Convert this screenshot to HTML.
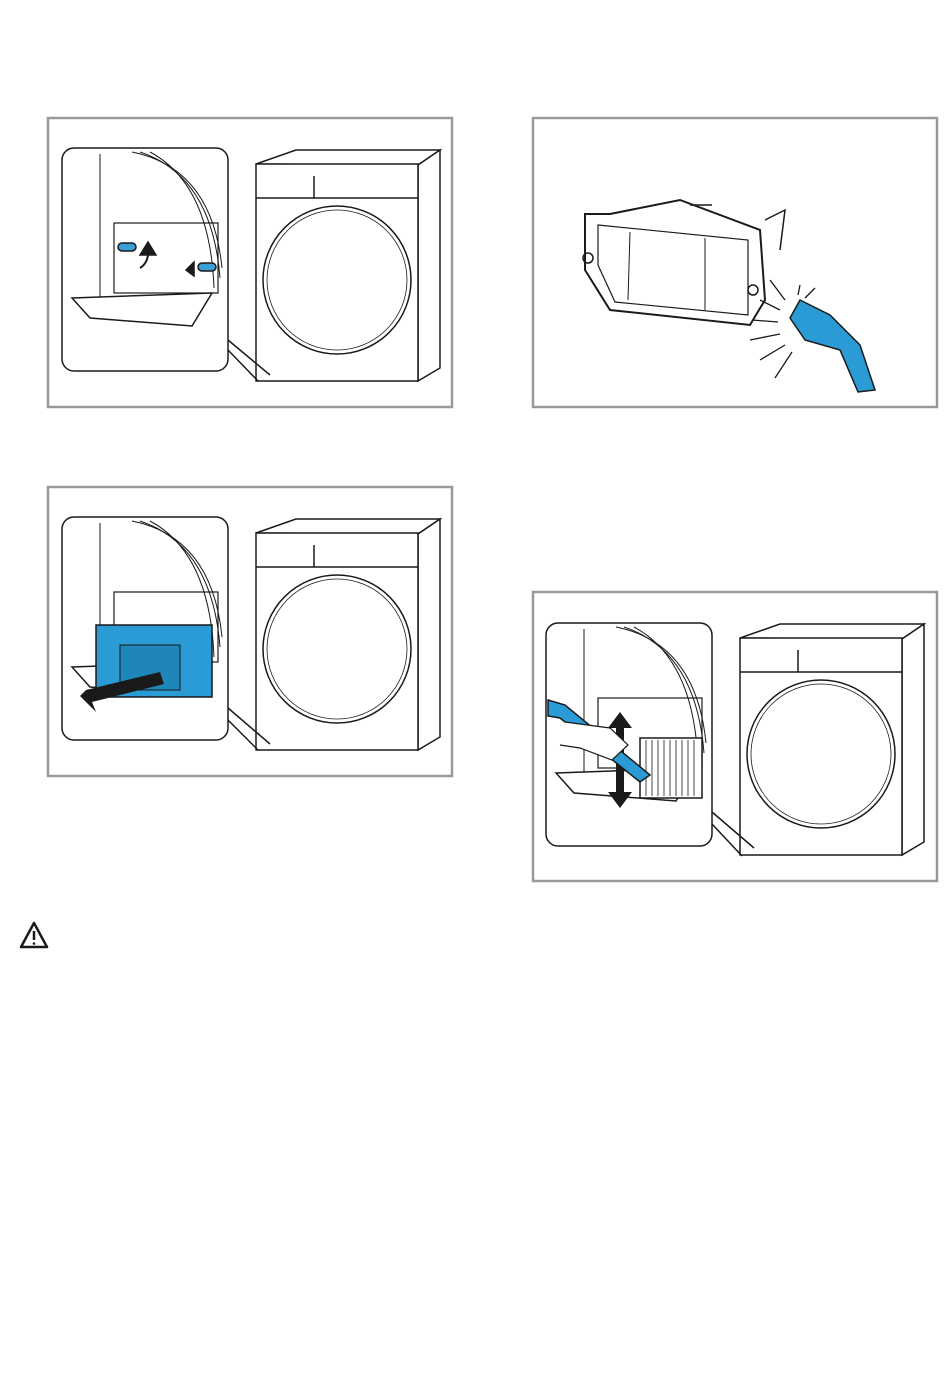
<!DOCTYPE html>
<html><head><meta charset="utf-8"><style>
html,body{margin:0;padding:0;background:#fff;}
svg{display:block;}
</style></head><body>
<svg width="950" height="1392" viewBox="0 0 950 1392" xmlns="http://www.w3.org/2000/svg" fill="none" stroke="#1a1a1a" stroke-width="1.5" font-family="Liberation Sans, sans-serif">
<defs>
<g id="dryer">
  <polygon points="0,14 40,0 184,0 162,15" fill="#fff"/>
  <polygon points="162,15 184,0 184,218 162,231" fill="#fff"/>
  <rect x="0" y="14" width="162" height="217" fill="#fff"/>
  <line x1="0" y1="48" x2="162" y2="48"/>
  <line x1="58" y1="26" x2="58" y2="48"/>
  <circle cx="81" cy="130" r="74"/>
  <circle cx="81" cy="130" r="70" stroke-width="0.8"/>
</g>
<g id="inset">
  <rect x="0" y="0" width="166" height="223" rx="12" fill="#fff"/>
  <line x1="38" y1="6" x2="38" y2="150" stroke-width="1"/>
  <path d="M70 4 Q150 20 160 120" stroke-width="1"/>
  <path d="M78 4 Q150 28 158 130" stroke-width="1"/>
  <path d="M88 4 Q148 36 152 140" stroke-width="1"/>
  <rect x="52" y="75" width="104" height="70" stroke-width="1.2"/>
  <polygon points="10,150 150,145 130,178 28,170" fill="#fff"/>
</g>
</defs>
<g stroke="#999" stroke-width="2.5">
<rect x="48" y="118" width="404" height="289"/>
<rect x="533" y="118" width="404" height="289"/>
<rect x="48" y="487" width="404" height="289"/>
<rect x="533" y="592" width="404" height="289"/>
</g>
<!-- box1 -->
<use href="#dryer" x="256" y="150"/>
<use href="#inset" x="62" y="148"/>
<polyline points="228,340 270,375" />
<polyline points="228,350 258,381"/>
<path d="M140 255 L148 242 L156 255 Z" fill="#1a1a1a"/>
<path d="M148 245 Q150 262 140 268" stroke-width="2"/>
<path d="M186 270 L194 262 L194 276 Z" fill="#1a1a1a"/>
<rect x="118" y="243" width="18" height="8" rx="4" fill="#3a9fd6"/>
<rect x="198" y="263" width="18" height="8" rx="4" fill="#3a9fd6"/>
<!-- box3 -->
<use href="#dryer" x="256" y="519"/>
<use href="#inset" x="62" y="517"/>
<polyline points="228,708 270,744"/>
<polyline points="228,720 258,750"/>
<rect x="96" y="625" width="116" height="72" fill="#2a9bd4" stroke="#1a1a1a"/>
<path d="M120 645 L180 645 L180 690 L120 690 Z" fill="#1f86ba" stroke-width="1"/>
<path d="M86 690 L160 672 L164 684 L92 702 L96 712 L80 696 Z" fill="#1a1a1a" stroke="none"/>
<!-- box2 -->
<path d="M585 214 L610 214 L680 200 L760 230 L765 300 L750 325 L610 310 L585 270 Z" fill="#fff" stroke-width="2"/>
<path d="M598 225 L748 240 L748 315 L615 302 L598 265 Z" stroke-width="1.2"/>
<line x1="630" y1="232" x2="628" y2="300" stroke-width="1"/>
<line x1="705" y1="238" x2="705" y2="310" stroke-width="1"/>
<circle cx="588" cy="258" r="5"/>
<circle cx="753" cy="290" r="5"/>
<path d="M690 205 L712 205 M765 220 L785 210 L780 250" stroke-width="1.5"/>
<path d="M800 300 L830 315 L860 345 L875 390 L858 392 L840 350 L805 340 L790 318 Z" fill="#2a9bd4"/>
<g stroke-width="1.3">
<line x1="785" y1="300" x2="770" y2="280"/><line x1="780" y1="310" x2="760" y2="300"/><line x1="778" y1="322" x2="752" y2="320"/><line x1="780" y1="334" x2="750" y2="340"/><line x1="785" y1="345" x2="760" y2="360"/><line x1="792" y1="352" x2="775" y2="378"/><line x1="798" y1="295" x2="800" y2="285"/><line x1="805" y1="298" x2="815" y2="288"/>
</g>
<!-- box4 -->
<use href="#dryer" x="740" y="624"/>
<use href="#inset" x="546" y="623"/>
<polyline points="712,812 754,848"/>
<polyline points="712,824 742,856"/>
<rect x="640" y="738" width="62" height="60" fill="#fff"/>
<g stroke-width="0.8"><line x1="646" y1="740" x2="646" y2="796"/><line x1="652" y1="740" x2="652" y2="796"/><line x1="658" y1="740" x2="658" y2="796"/><line x1="664" y1="740" x2="664" y2="796"/><line x1="670" y1="740" x2="670" y2="796"/><line x1="676" y1="740" x2="676" y2="796"/><line x1="682" y1="740" x2="682" y2="796"/><line x1="688" y1="740" x2="688" y2="796"/><line x1="694" y1="740" x2="694" y2="796"/></g>
<path d="M620 712 L632 728 L624 728 L624 792 L632 792 L620 808 L608 792 L616 792 L616 728 L608 728 Z" fill="#1a1a1a" stroke="none"/>
<path d="M548 700 L565 705 L650 775 L640 782 L560 718 L548 716 Z" fill="#2a9bd4"/>
<path d="M565 722 L610 728 L628 745 L612 760 L580 748 L560 745" fill="#fff" stroke-width="1.2"/>
<!-- warning -->
<path d="M34 923 L47 947 L21 947 Z" stroke-width="2.5" stroke-linejoin="round"/>
<line x1="34" y1="931" x2="34" y2="940" stroke-width="2.5"/>
<circle cx="34" cy="943.5" r="1.3" fill="#1a1a1a" stroke="none"/>
</svg>
</body></html>
